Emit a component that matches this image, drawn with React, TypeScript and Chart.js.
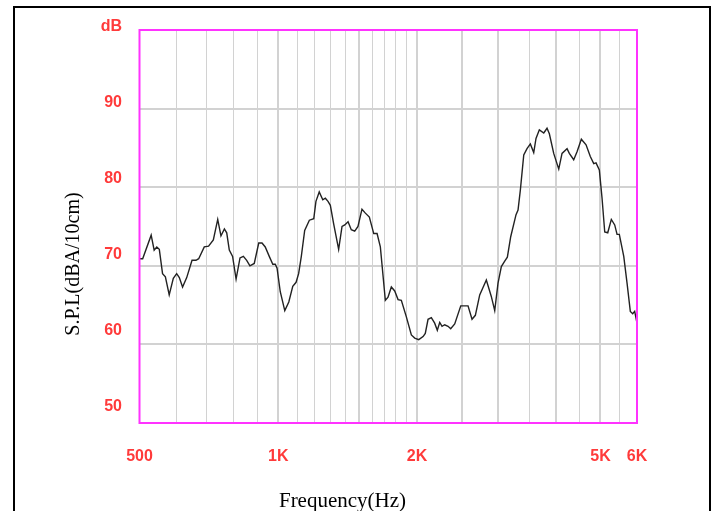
import React, { useEffect, useRef } from 'react';
import { Chart, registerables } from 'chart.js';

Chart.register(...registerables);

// Frequency response data (Hz, dB SPL)
const frequencyHz = [
  500, 508, 530, 538, 545, 552, 561, 569, 580, 592,
  602, 610, 620, 633, 650, 663, 672, 691, 706, 723,
  739, 751, 764, 773, 783, 796, 810, 826, 840, 854,
  868, 887, 907, 922, 937, 956, 973, 985, 994, 1010,
  1033, 1054, 1075, 1093, 1107, 1122, 1141, 1168, 1194, 1207,
  1227, 1249, 1265, 1282, 1297, 1319, 1352, 1375, 1394, 1417,
  1440, 1465, 1489, 1519, 1545, 1576, 1611, 1638, 1665, 1707,
  1730, 1759, 1789, 1819, 1849, 1896, 1944, 1977, 2017, 2061,
  2084, 2113, 2148, 2184, 2213, 2240, 2266, 2296, 2335, 2366,
  2414, 2488, 2580, 2632, 2676, 2735, 2827, 2898, 2948, 2997,
  3047, 3099, 3140, 3193, 3279, 3312, 3350, 3408, 3464, 3522,
  3582, 3623, 3684, 3766, 3828, 3873, 3958, 4059, 4126, 4231,
  4279, 4374, 4447, 4544, 4652, 4752, 4834, 4890, 4971, 5039,
  5107, 5184, 5278, 5368, 5431, 5493, 5616, 5709, 5803, 5873,
  5931, 6000,
];

const splDb = [
  70.9, 70.9, 73.9, 72.0, 72.4, 72.1, 69.0, 68.6, 66.3, 68.4,
  69.0, 68.5, 67.3, 68.5, 70.7, 70.7, 70.9, 72.4, 72.5, 73.3,
  75.9, 73.8, 74.7, 74.2, 72.0, 71.2, 68.3, 71.0, 71.2, 70.7,
  70.0, 70.3, 72.9, 72.9, 72.4, 71.2, 70.2, 70.2, 69.7, 66.7,
  64.3, 65.4, 67.4, 67.9, 69.0, 71.2, 74.5, 75.8, 76.0, 78.2,
  79.4, 78.4, 78.6, 78.2, 77.7, 75.3, 72.1, 75.0, 75.2, 75.6,
  74.6, 74.4, 75.0, 77.2, 76.7, 76.2, 74.1, 74.1, 72.4, 65.6,
  66.0, 67.3, 66.8, 65.7, 65.6, 63.5, 61.2, 60.8, 60.6, 61.0,
  61.4, 63.2, 63.4, 62.7, 61.8, 62.8, 62.3, 62.5, 62.3, 62.0,
  62.6, 64.9, 64.9, 63.2, 63.7, 66.3, 68.2, 66.1, 64.3, 67.8,
  69.9, 70.6, 71.1, 73.7, 76.5, 77.1, 79.6, 84.1, 84.9, 85.5,
  84.4, 86.2, 87.3, 86.9, 87.5, 86.8, 84.3, 82.3, 84.3, 84.9,
  84.3, 83.5, 84.5, 86.1, 85.4, 83.9, 83.0, 83.1, 82.2, 78.6,
  74.3, 74.2, 75.9, 75.2, 74.0, 74.0, 71.2, 67.8, 64.2, 63.9,
  64.2, 62.7,
];

// Axis ticks / grid
const xGridHz = [
  500, 600, 700, 800, 900, 1000, 1100, 1200, 1300, 1400, 1500, 1600, 1700,
  1800, 1900, 2000, 2500, 3000, 3500, 4000, 4500, 5000, 5500, 6000,
];
const xStrongGridHz = [1000, 1500, 2000, 2500, 3000, 4000, 5000];
const xLabelHz = [500, 1000, 2000, 5000, 6000];
const xLabelText = ['500', '1K', '2K', '5K', '6K'];
const yGridDb = [50, 60, 70, 80, 90, 100];
const yLabelDb = [50, 60, 70, 80, 90, 100];
const yLabelText = ['50', '60', '70', '80', '90', 'dB'];

const xTitle = 'Frequency(Hz)';
const yTitle = 'S.P.L(dBA/10cm)';

const RED = '#ff3a3a';
const MAGENTA = '#ff33ff';
const GRID = '#d2d2d2';
const TICK_FONT = "'Liberation Sans', Arial, sans-serif";
const SERIF = "'Liberation Serif', 'Times New Roman', serif";

const decorPlugin = {
  id: 'decor',
  beforeDraw(chart: any) {
    const { ctx, width, height } = chart;
    ctx.save();
    ctx.fillStyle = '#ffffff';
    ctx.fillRect(0, 0, width, height);
    ctx.restore();
  },
  afterDraw(chart: any) {
    const { ctx, chartArea: a } = chart;
    ctx.save();
    // magenta plot frame
    ctx.strokeStyle = MAGENTA;
    ctx.lineWidth = 2;
    ctx.strokeRect(a.left, a.top, a.right - a.left, a.bottom - a.top);
    // outer black frame
    ctx.strokeStyle = '#000000';
    ctx.lineWidth = 2;
    ctx.beginPath();
    ctx.moveTo(14, 530);
    ctx.lineTo(14, 7);
    ctx.lineTo(710, 7);
    ctx.lineTo(710, 530);
    ctx.stroke();
    // axis titles
    ctx.fillStyle = '#000000';
    ctx.font = `21px ${SERIF}`;
    ctx.textAlign = 'center';
    ctx.textBaseline = 'alphabetic';
    ctx.fillText(xTitle, 342.5, 507);
    ctx.translate(74, 264);
    ctx.rotate(-Math.PI / 2);
    ctx.font = `20px ${SERIF}`;
    ctx.textBaseline = 'middle';
    ctx.fillText(yTitle, 0, 0);
    ctx.restore();
  },
};

export default function App() {
  const canvasRef = useRef<HTMLCanvasElement | null>(null);

  useEffect(() => {
    if (!canvasRef.current) return;
    const points = frequencyHz.map((f, i) => ({ x: f, y: splDb[i] }));
    const chart = new Chart(canvasRef.current, {
      type: 'line',
      data: {
        datasets: [
          {
            data: points,
            borderColor: '#222222',
            borderWidth: 1.4,
            pointRadius: 0,
            tension: 0,
            fill: false,
            xAxisID: 'x',
            yAxisID: 'y',
          },
        ],
      },
      options: {
        animation: false,
        responsive: false,
        events: [],
        layout: { padding: { left: 0, top: 30, right: 81, bottom: 0 } },
        plugins: {
          legend: { display: false },
          tooltip: { enabled: false },
          title: { display: false },
        },
        scales: {
          x: {
            type: 'logarithmic',
            position: 'bottom',
            min: 500,
            max: 6000,
            afterBuildTicks: (s: any) => {
              s.ticks = xGridHz.map((v) => ({ value: v }));
            },
            afterFit: (s: any) => {
              s.height = 88;
            },
            border: { display: false },
            grid: {
              color: GRID,
              lineWidth: (c: any) =>
                c.tick && xStrongGridHz.includes(c.tick.value) ? 2 : 1,
              drawTicks: false,
            },
            ticks: {
              autoSkip: false,
              maxRotation: 0,
              minRotation: 0,
              padding: 24,
              color: RED,
              font: { family: TICK_FONT, size: 16, weight: 'bold' },
              callback: (v: any) => {
                const i = xLabelHz.indexOf(Number(v));
                return i >= 0 ? xLabelText[i] : '';
              },
            },
          },
          y: {
            type: 'linear',
            position: 'left',
            weight: 0,
            min: 50,
            max: 100,
            afterBuildTicks: (s: any) => {
              s.ticks = yGridDb.map((v) => ({ value: v }));
            },
            afterFit: (s: any) => {
              s.width = 0;
            },
            border: { display: false },
            grid: { color: GRID, lineWidth: 2, drawTicks: false },
            ticks: { display: false },
          },
          yl: {
            type: 'linear',
            position: 'left',
            weight: 1,
            min: 47.895,
            max: 99.605,
            afterBuildTicks: (s: any) => {
              s.ticks = yLabelDb.map((v) => ({ value: v }));
            },
            afterFit: (s: any) => {
              s.width = 139.5;
            },
            border: { display: false },
            grid: { display: false, drawTicks: false },
            ticks: {
              autoSkip: false,
              padding: 17.5,
              color: RED,
              font: { family: TICK_FONT, size: 16, weight: 'bold' },
              callback: (v: any) => {
                const i = yLabelDb.indexOf(Number(v));
                return i >= 0 ? yLabelText[i] : '';
              },
            },
          },
        },
      } as any,
      plugins: [decorPlugin],
    });
    return () => chart.destroy();
  }, []);

  return (
    <div style={{ position: 'absolute', left: 0, top: 0, width: 718, height: 511, background: '#fff' }}>
      <canvas ref={canvasRef} width={718} height={511} style={{ display: 'block' }} />
    </div>
  );
}
